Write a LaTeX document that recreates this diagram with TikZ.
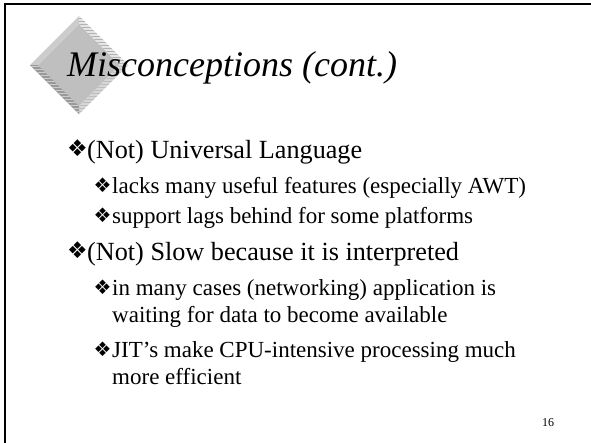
\documentclass[tikz,border=0pt]{standalone}
\usepackage{fontspec}
\setmainfont{Liberation Serif}
\newfontfamily\dejavu{DejaVu Sans}
\definecolor{face}{gray}{0.75}
\definecolor{facettl}{gray}{0.80}
\definecolor{facettr}{gray}{0.90}
\definecolor{stripetr}{gray}{0.70}
\definecolor{facetbr}{gray}{0.84}
\definecolor{stripebr}{gray}{0.74}
\definecolor{facetbl}{gray}{0.60}
\definecolor{stripebl}{gray}{0.80}
\begin{document}
\begin{tikzpicture}[x=1pt,y=-1pt,
  lone/.style={anchor=base west,inner sep=0pt,font=\fontsize{26.2}{30}\selectfont},
  ltwo/.style={anchor=base west,inner sep=0pt,font=\fontsize{23}{27}\selectfont},
  bone/.style={inner sep=0pt,font=\dejavu\fontsize{23}{23}\selectfont},
  btwo/.style={inner sep=0pt,font=\dejavu\fontsize{20}{20}\selectfont},
  titletext/.style={anchor=base west,inner sep=0pt,font=\itshape\fontsize{36}{40}\selectfont},
  stripe/.style={line width=1pt},
  frameline/.style={line width=2pt,line cap=rect}]
\useasboundingbox (0,0) rectangle (591,442);
\fill[white] (0,0) rectangle (591,442);
% frame
\draw[frameline] (4.5,442) -- (4.5,4) -- (591,4);
% diamond logo
\coordinate (T) at (79,16); \coordinate (R) at (128,65);
\coordinate (B) at (79,114); \coordinate (L) at (30,65);
\coordinate (t) at (79,24); \coordinate (r) at (120,65);
\coordinate (b) at (79,106); \coordinate (l) at (38,65);
\fill[face] (t) -- (r) -- (b) -- (l) -- cycle;
\fill[facettl] (L) -- (T) -- (t) -- (l) -- cycle;
\fill[facettr] (T) -- (R) -- (r) -- (t) -- cycle;
\fill[facetbr] (R) -- (B) -- (b) -- (r) -- cycle;
\fill[facetbl] (B) -- (L) -- (l) -- (b) -- cycle;
\begin{scope}
\clip (T) -- (R) -- (r) -- (t) -- cycle;
\foreach \yy in {15,18,...,70} \draw[stripe,stripetr] (75,\yy) -- (130,\yy);
\end{scope}
\begin{scope}
\clip (B) -- (L) -- (l) -- (b) -- cycle;
\foreach \yy in {63,66,...,116} \draw[stripe,stripebl] (28,\yy) -- (82,\yy);
\end{scope}
\begin{scope}
\clip (R) -- (B) -- (b) -- (r) -- cycle;
\foreach \yy in {63,66,...,116} \draw[stripe,stripebr] (75,\yy) -- (130,\yy);
\end{scope}
% title
\node[titletext] (title) at (67,76) {Misconceptions (cont.)};
% bullets
\node[bone] (b1) at (77.5,148.5) {❖};
\node[lone] (t1) at (87,158) {(Not) Universal Language};
\node[btwo] (b2) at (102.5,185) {❖};
\node[ltwo] (t2) at (112,193) {lacks many useful features (especially AWT)};
\node[btwo] (b3) at (102.5,215) {❖};
\node[ltwo] (t3) at (112,223) {support lags behind for some platforms};
\node[bone] (b4) at (77.5,250.5) {❖};
\node[lone] (t4) at (87,260) {(Not) Slow because it is interpreted};
\node[btwo] (b5) at (102.5,287) {❖};
\node[ltwo] (t5) at (112,295) {in many cases (networking) application is};
\node[ltwo] (t5b) at (112,322) {waiting for data to become available};
\node[btwo] (b6) at (102.5,349) {❖};
\node[ltwo] (t6) at (112,357) {JIT’s make CPU-intensive processing much};
\node[ltwo] (t6b) at (112,384) {more efficient};
% page number
\node[anchor=base west,inner sep=0pt,font=\fontsize{12}{12}\selectfont] (pg) at (542,426) {16};
\end{tikzpicture}
\end{document}
